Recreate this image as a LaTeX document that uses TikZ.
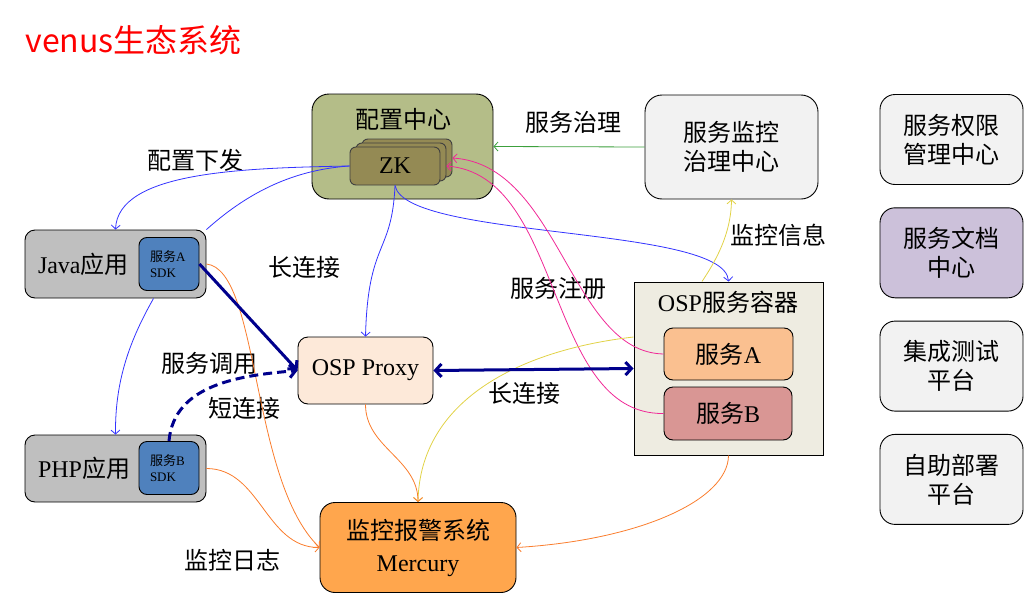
\documentclass[tikz,border=0pt]{standalone}
\usepackage{fontspec}
\setmainfont{Noto Sans CJK SC}
\newfontfamily\latf{Liberation Serif}
\newcommand{\lat}[1]{{\latf #1}}
\usepackage{tikz}
\usetikzlibrary{positioning}
\usetikzlibrary{arrows.meta}
\definecolor{ccgreen}{RGB}{180,189,136}
\definecolor{zkbrown}{RGB}{148,138,84}
\definecolor{boxgray}{RGB}{242,242,242}
\definecolor{docpurple}{RGB}{204,193,218}
\definecolor{appgray}{RGB}{191,191,191}
\definecolor{sdkblue}{RGB}{79,129,189}
\definecolor{proxypeach}{RGB}{253,233,217}
\definecolor{monorange}{RGB}{255,166,77}
\definecolor{ospbeige}{RGB}{238,236,225}
\definecolor{svcorange}{RGB}{250,192,144}
\definecolor{svcred}{RGB}{217,150,148}
\definecolor{linkblue}{RGB}{51,51,255}
\definecolor{linknavy}{RGB}{0,0,140}
\definecolor{linkpink}{RGB}{240,40,150}
\definecolor{linkyellow}{RGB}{225,210,70}
\definecolor{linkorange}{RGB}{250,125,45}
\definecolor{linkgreen}{RGB}{60,160,60}

\begin{document}
\begin{tikzpicture}[
            x = 1pt, y = -1pt, % pixel grid, y goes down
            > = {Straight Barb[length=4pt,width=9pt]}, % arrow head style
            node distance = 113.3pt, % distance between nodes
            font = \fontsize{24}{29}\selectfont
        ]

        \tikzstyle{panel}=[
            draw,
            line width = 0.9pt,
            rounded corners = 15pt,
            align = center,
            inner sep = 0pt
        ]
        \tikzstyle{sdk}=[panel, fill = sdkblue, rounded corners = 8pt,
            minimum width = 60pt, minimum height = 53pt,
            text width = 38pt, align = left,
            font = \fontsize{13}{16}\selectfont]
        \tikzstyle{zkbox}=[panel, draw = black!75, fill = zkbrown,
            rounded corners = 6pt, minimum width = 90pt, minimum height = 38pt]
        \tikzstyle{sidebox}=[panel, fill = boxgray,
            minimum width = 143pt, minimum height = 90pt]
        \tikzstyle{link}=[line width = 0.8pt]
        \tikzstyle{navylink}=[draw = linknavy, line width = 3pt]

        \useasboundingbox (0,0) rectangle (1024,594);

        % title
        \node[anchor = west, text = red, font = \fontsize{32}{36}\selectfont] (TITLE) at (22,40) {venus生态系统};

        % config center
        \node[panel, fill = ccgreen, minimum width = 181pt, minimum height = 105pt, rounded corners = 17pt] (CC) at (402.5,146.5) {};
        \node (CCT) at (403,119) {配置中心};
        \node[zkbox] (ZK3) at (407,158) {};
        \node[zkbox] (ZK2) at (401,162) {};
        \node[zkbox] (ZK) at (395,166) {\lat{ZK}};

        % governance
        \node[panel, fill = boxgray, minimum width = 173pt, minimum height = 104pt, rounded corners = 17pt] (GOV) at (731.5,147) {服务监控\\治理中心};

        % side platforms
        \node[sidebox] (AUTH) at (951.5,139.5) {服务权限\\管理中心};
        \node[sidebox, fill = docpurple] (DOC) [below of = AUTH] {服务文档\\中心};
        \node[sidebox] (TEST) [below of = DOC] {集成测试\\平台};
        \node[sidebox] (DEPLOY) [below of = TEST] {自助部署\\平台};

        % applications
        \node[panel, fill = appgray, rounded corners = 10pt, minimum width = 181pt, minimum height = 68pt,
              text width = 155pt, align = left] (JAVA) at (115.5,264) {\lat{Java}应用};
        \node[sdk] (SDKA) at (169,264) {服务\lat{A}\\\lat{SDK}};
        \node[panel, fill = appgray, rounded corners = 10pt, minimum width = 181pt, minimum height = 67pt,
              text width = 155pt, align = left] (PHP) at (115.5,468.5) {\lat{PHP}应用};
        \node[sdk] (SDKB) at (169,468) {服务\lat{B}\\\lat{SDK}};

        % proxy
        \node[panel, fill = proxypeach, rounded corners = 10pt, minimum width = 135pt, minimum height = 67pt] (PROXY) at (365.5,370.5) {\lat{OSP Proxy}};

        % monitor
        \node[panel, fill = monorange, minimum width = 196pt, minimum height = 90pt,
              font = \fontsize{24}{32}\selectfont] (MON) at (418,547.5) {监控报警系统\\\lat{Mercury}};

        % service container
        \node[draw, line width = 1pt, fill = ospbeige, minimum width = 189pt, minimum height = 173pt] (OSP) at (728.5,368.5) {};
        \node (OSPT) at (728,302) {\lat{OSP}服务容器};
        \node[panel, fill = svcorange, rounded corners = 9pt, minimum width = 129pt, minimum height = 52pt] (SA) at (728.5,354) {服务\lat{A}};
        \node[panel, fill = svcred, rounded corners = 9pt, minimum width = 128pt, minimum height = 53pt] (SB) at (728,413.5) {服务\lat{B}};

        % labels
        \node (LPUSH) at (195,160) {配置下发};
        \node (LGOV) at (573,122) {服务治理};
        \node (LLONG1) at (304,267) {长连接};
        \node (LINFO) at (778,235) {监控信息};
        \node (LREG) at (558,288) {服务注册};
        \node (LCALL) at (209,363) {服务调用};
        \node (LSHORT) at (244,408) {短连接};
        \node (LLONG2) at (524,393) {长连接};
        \node (LLOG) at (232,560) {监控日志};

        % config push
        \draw[link, linkblue, ->] (ZK.west) .. controls (240,168) and (118,172) .. (JAVA.north);
        \draw[link, linkblue] (JAVA.north east) .. controls (245,195) and (290,170) .. (ZK.west);
        \draw[link, linkblue, ->] ([xshift=38pt]JAVA.south) .. controls (130,340) and (115,380) .. (PHP.north);
        \draw[link, linkblue, ->] (ZK.south) .. controls (392,255) and (368,240) .. (PROXY.north);
        \draw[link, linkblue, ->] (ZK.south) .. controls (405,240) and (725,225) .. (OSP.north);

        % governance
        \path[->] (GOV.west) edge[link, linkgreen] node {} (CC.east);

        % registration
        \draw[link, linkpink, ->] (SA.west) .. controls (570,352) and (560,165) .. (ZK3.east);
        \draw[link, linkpink, ->] (SB.west) .. controls (545,415) and (565,175) .. ([yshift=-4pt]ZK2.east);

        % monitoring
        \draw[link, linkyellow, ->] ([xshift=-26.5pt]OSP.north) .. controls (715,262) and (731,235) .. (GOV.south);
        \draw[link, linkyellow, ->] ([yshift=31.5pt]OSP.west) .. controls (520,350) and (420,400) .. (MON.north);
        \path[->] (PROXY.south) edge[link, linkorange, out=-90, in=90] node {} (MON.north);
        \draw[link, linkorange, ->] (OSP.south) .. controls (728,500) and (640,540) .. (MON.east);
        \draw[link, linkorange, ->] (JAVA.east) .. controls (260,270) and (250,480) .. (MON.west);
        \path[->] (PHP.east) edge[link, linkorange, out=0, in=180] node {} (MON.west);

        % calls
        \draw[navylink, -{Straight Barb[length=6pt,width=13pt]}] (SDKA.east) -- (PROXY.west);
        \draw[navylink, dash pattern = on 9pt off 5pt, -{Straight Barb[length=6pt,width=13pt]}] (SDKB.north) to[out=85, in=185] (PROXY.west);
        \draw[navylink, {Straight Barb[length=6pt,width=13pt]}-{Straight Barb[length=6pt,width=13pt]}] (PROXY.east) -- (OSP.west);

  \end{tikzpicture}
\end{document}
